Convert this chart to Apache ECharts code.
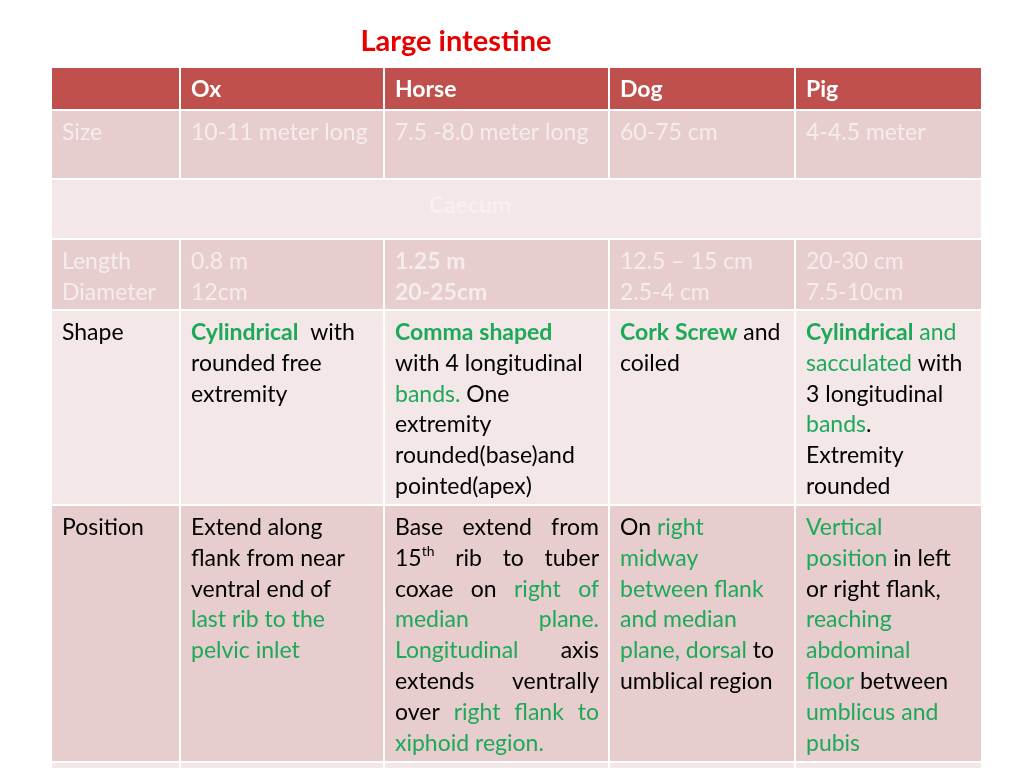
<!DOCTYPE html>
<html><head><meta charset="utf-8">
<script src="https://cdn.jsdelivr.net/npm/echarts@6/dist/echarts.min.js"></script>
<style>html,body{margin:0;padding:0;background:#fff}#c{width:1024px;height:768px}</style>
</head><body><div id="c"></div>
<script>
// ---- data ----
const title = 'Large intestine';
const columns = ['', 'Ox', 'Horse', 'Dog', 'Pig'];
const sizeRow = ['Size', '10-11 meter long', '7.5 -8.0 meter long', '60-75 cm', '4-4.5 meter'];
const caecumLabel = 'Caecum';
const lengthRow = ['Length\nDiameter', '0.8 m\n12cm', '{b|1.25 m}\n{b|20-25cm}', '12.5 \u2013 15 cm\n2.5-4 cm', '20-30 cm\n7.5-10cm'];
const shapeRow = ['Shape',
  '{gb|Cylindrical}  with\nrounded free\nextremity',
  '{gb|Comma shaped}\nwith 4 longitudinal\n{g|bands.} One\nextremity\nrounded(base)and\npointed(apex)',
  '{gb|Cork Screw} and\ncoiled',
  '{gb|Cylindrical} {g|and}\n{g|sacculated} with\n3 longitudinal\n{g|bands}.\nExtremity\nrounded'];
const positionRow = ['Position',
  'Extend along\nflank from near\nventral end of\n{g|last rib to the}\n{g|pelvic inlet}',
  'Base extend from\n15{sup|th} rib to tuber\ncoxae on {g|right of}\n{g|median plane.}\n{g|Longitudinal} axis\nextends ventrally\nover {g|right flank to}\n{g|xiphoid region.}',
  'On {g|right}\n{g|midway}\n{g|between flank}\n{g|and median}\n{g|plane, dorsal} to\numblical region',
  '{g|Vertical}\n{g|position} in left\nor right flank,\n{g|reaching}\n{g|abdominal}\n{g|floor} between\n{g|umblicus and}\n{g|pubis}'];
const justifiedCells = [[5, 2]]; // [row, col]

// ---- layout / style ----
const FONT = 'Lato';
const FS = 23;
const LH = 30.8;
const GREEN = '#1CA958';
const FAINT = '#F5ECEC';
const colEdges = [52, 180, 384, 609, 795, 981];
const rowEdges = [68, 110, 179, 239, 310, 505, 762, 820];
const rowFills = ['#C0504D', '#E8CDCE', '#F3E7E7', '#E8CDCE', '#F3E7E7', '#E8CDCE', '#F3E7E7'];
const rowData = [columns, sizeRow, null, lengthRow, shapeRow, positionRow, ['', '', '', '', '']];
const rowBase = [
  {fill: '#FFFFFF', bold: true},
  {fill: FAINT, bold: false},
  null,
  {fill: FAINT, bold: false},
  {fill: '#000000', bold: false},
  {fill: '#000000', bold: false},
  {fill: '#000000', bold: false}
];
const PADX = 11;

const mctx = document.createElement('canvas').getContext('2d');
function fontStr(st) { return (st.bold ? 'bold ' : 'normal ') + st.size + 'px ' + FONT; }
function measure(t, st) { mctx.font = fontStr(st); return mctx.measureText(t).width; }
function styleOf(tag, base) {
  const s = {fill: base.fill, bold: base.bold, size: FS, dy: 0};
  if (tag === 'g') s.fill = base.fill === '#000000' ? GREEN : base.fill;
  if (tag === 'gb') { s.fill = base.fill === '#000000' ? GREEN : base.fill; s.bold = true; }
  if (tag === 'b') s.bold = true;
  if (tag === 'sup') { s.size = 14; s.dy = -7; }
  return s;
}
function parseLine(line, base) {
  const segs = [];
  const re = /\{(\w+)\|([^}]*)\}|([^{]+)/g;
  let m;
  while ((m = re.exec(line)) !== null) {
    if (m[1]) segs.push({st: styleOf(m[1], base), text: m[2]});
    else segs.push({st: styleOf('', base), text: m[3]});
  }
  const words = [[]];
  segs.forEach(seg => {
    const parts = seg.text.split(' ');
    parts.forEach((p, i) => {
      if (i > 0) words.push([]);
      if (p) words[words.length - 1].push({st: seg.st, text: p});
    });
  });
  return words;
}
function textEl(x, y, t, st) {
  return {type: 'text', x: x, y: y + st.dy, silent: true,
    style: {text: t, fill: st.fill, fontFamily: FONT, fontSize: st.size,
      fontWeight: st.bold ? 'bold' : 'normal', align: 'left', verticalAlign: 'middle'}};
}
function cellEls(content, x0, yc, width, base, justify) {
  const els = [];
  const lines = content.split('\n');
  lines.forEach((line, li) => {
    const y = yc + li * LH;
    const raw = parseLine(line, base);
    const sp = measure(' ', {bold: false, size: FS});
    if (justify && li < lines.length - 1) {
      const words = raw.filter(w => w.length);
      const widths = words.map(w => w.reduce((a, s) => a + measure(s.text, s.st), 0));
      const total = widths.reduce((a, b) => a + b, 0);
      const gap = words.length > 1 ? (width - total) / (words.length - 1) : 0;
      let x = x0;
      words.forEach((w, wi) => {
        let xx = x;
        w.forEach(s => { els.push(textEl(xx, y, s.text, s.st)); xx += measure(s.text, s.st); });
        x += widths[wi] + gap;
      });
    } else {
      let x = x0;
      raw.forEach((w, wi) => {
        if (wi > 0) x += sp;
        w.forEach(s => { els.push(textEl(x, y, s.text, s.st)); x += measure(s.text, s.st); });
      });
    }
  });
  return els;
}

const elements = [];
elements.push({type: 'text', x: 456, y: 42, silent: true,
  style: {text: title, fill: '#E60000', fontFamily: FONT, fontSize: 29, fontWeight: 'bold', align: 'center', verticalAlign: 'middle'}});

for (let r = 0; r < rowFills.length; r++) {
  const y0 = rowEdges[r] + (r === 0 ? 0 : 1);
  const y1 = rowEdges[r + 1] - 1;
  if (rowData[r] === null) {
    elements.push({type: 'rect', silent: true, shape: {x: colEdges[0], y: y0, width: colEdges[5] - colEdges[0], height: y1 - y0}, style: {fill: rowFills[r]}});
    elements.push({type: 'text', x: 470, y: (rowEdges[r] + rowEdges[r + 1]) / 2 - 3, silent: true,
      style: {text: caecumLabel, fill: '#F8F0F0', fontFamily: FONT, fontSize: FS, fontWeight: 'bold', align: 'center', verticalAlign: 'middle'}});
    continue;
  }
  for (let c = 0; c < 5; c++) {
    const x0 = colEdges[c] + (c === 0 ? 0 : 1);
    const x1 = colEdges[c + 1] - (c === 4 ? 0 : 1);
    elements.push({type: 'rect', silent: true, shape: {x: x0, y: y0, width: x1 - x0, height: y1 - y0}, style: {fill: rowFills[r]}});
  }
  for (let c = 0; c < 5; c++) {
    const content = rowData[r][c];
    if (!content) continue;
    const x = colEdges[c] + (c === 0 ? 10 : PADX);
    const w = colEdges[c + 1] - colEdges[c] - PADX - 10;
    const yc = r === 0 ? (rowEdges[0] + rowEdges[1]) / 2 + 1 : rowEdges[r] + 22.5;
    const just = justifiedCells.some(p => p[0] === r && p[1] === c);
    elements.push(...cellEls(content, x, yc, w, rowBase[r], just));
  }
}

const chart = echarts.init(document.getElementById('c'), null, {renderer: 'canvas'});
chart.setOption({animation: false, backgroundColor: '#FFFFFF', graphic: {elements: elements}});
</script>
</body></html>
